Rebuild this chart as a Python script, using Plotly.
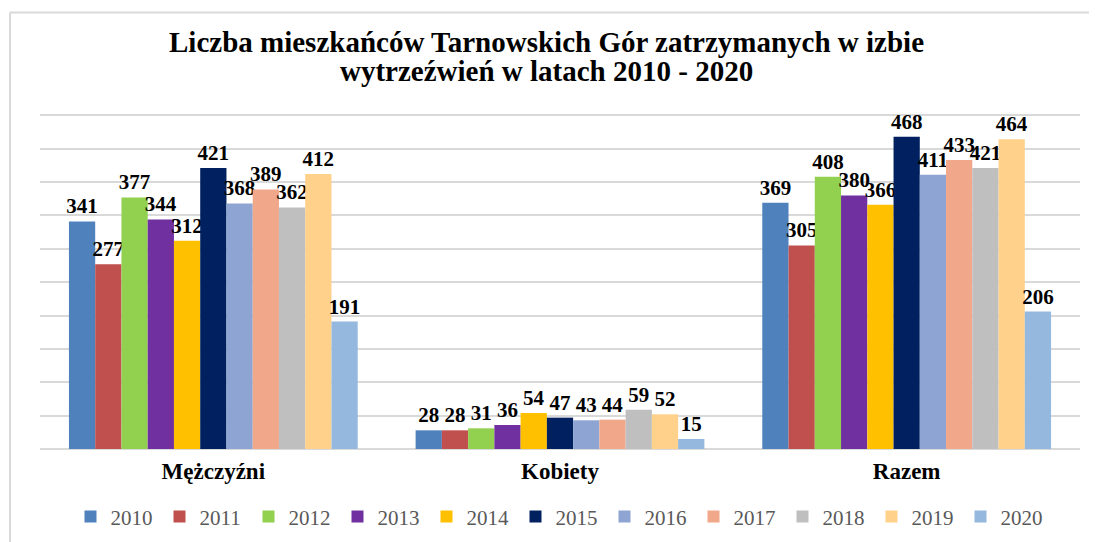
import plotly.graph_objects as go

categories = ["Mężczyźni", "Kobiety", "Razem"]
years = ["2010", "2011", "2012", "2013", "2014", "2015", "2016", "2017", "2018", "2019", "2020"]
men = [341, 277, 377, 344, 312, 421, 368, 389, 362, 412, 191]
women = [28, 28, 31, 36, 54, 47, 43, 44, 59, 52, 15]
total = [369, 305, 408, 380, 366, 468, 411, 433, 421, 464, 206]
colors = ["#4F81BD", "#C0504D", "#92D050", "#7030A0", "#FFC000", "#002060",
          "#8EA4D2", "#F1A78A", "#BFBFBF", "#FFD18A", "#95B8DE"]
title_lines = ["Liczba mieszkańców Tarnowskich Gór zatrzymanych w izbie",
               "wytrzeźwień w latach 2010 - 2020"]

SERIF = "Liberation Serif"

fig = go.Figure()
for i, yr in enumerate(years):
    vals = [men[i], women[i], total[i]]
    tf = dict(family=SERIF, size=21, color="black", weight="bold")
    fig.add_trace(go.Bar(
        name=yr, x=categories, y=vals,
        marker=dict(color=colors[i], line=dict(width=0)),
        text=[str(v) for v in vals], textposition="outside",
        textfont=tf, outsidetextfont=tf,
        constraintext="none", cliponaxis=False,
    ))

# page body has an 8px margin, so the figure is drawn at (8, 8)
OFF = 8
W, H = 1097 - OFF, 542 - OFF
YMAX = 505
PL, PR, PB = 40, 1080, 449          # plot edges in reference pixels
PT = PB - 334 * YMAX / 500
L, R, T, B = PL - OFF, 1097 - PR, PT - OFF, 542 - PB
pw, ph = PR - PL, PB - PT

def px_x(x):
    return (x - PL) / pw

def px_y(y):
    return (PB - y) / ph

annotations = []
for yy, line in zip([42, 71], title_lines):
    annotations.append(dict(
        text=line, xref="paper", yref="paper", x=px_x(546), y=px_y(yy),
        xanchor="center", yanchor="middle", showarrow=False,
        font=dict(family=SERIF, size=29, color="black", weight="bold"),
    ))

fig.update_layout(
    width=W, height=H,
    margin=dict(l=L, r=R, t=T, b=B, autoexpand=False),
    paper_bgcolor="white", plot_bgcolor="white",
    font=dict(family=SERIF),
    barmode="group", bargap=0.167, bargroupgap=0,
    annotations=annotations,
    xaxis=dict(
        showgrid=False, showline=False, ticks="",
        tickfont=dict(family=SERIF, size=23, color="black", weight="bold"),
        ticklabelstandoff=6,
    ),
    yaxis=dict(
        range=[0, YMAX], dtick=50, showticklabels=False,
        showgrid=True, gridcolor="#D9D9D9", gridwidth=2,
        zeroline=True, zerolinecolor="#D9D9D9", zerolinewidth=2,
        showline=False,
    ),
    legend=dict(
        orientation="h", x=px_x(560), xanchor="center", y=px_y(517), yanchor="middle",
        font=dict(family=SERIF, size=21, color="#595959"),
        entrywidth=44, entrywidthmode="pixels", itemwidth=30,
        traceorder="normal",
    ),
    showlegend=True,
    shapes=[
        dict(type="line", xref="paper", yref="paper",
             x0=px_x(10), x1=px_x(10), y0=px_y(12), y1=px_y(545),
             line=dict(color="#D9D9D9", width=2)),
        dict(type="line", xref="paper", yref="paper",
             x0=px_x(10), x1=px_x(1100), y0=px_y(12), y1=px_y(12),
             line=dict(color="#D9D9D9", width=2)),
    ],
)

fig.write_html("out.html")
